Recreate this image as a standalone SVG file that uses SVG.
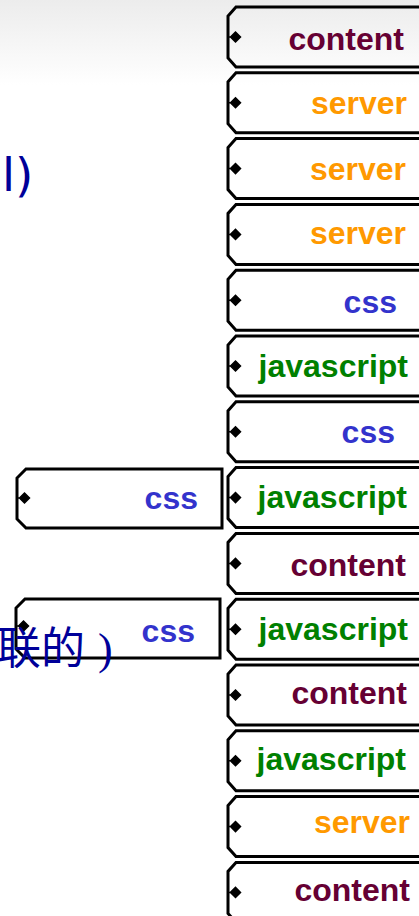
<svg xmlns="http://www.w3.org/2000/svg" width="419" height="916" viewBox="0 0 419 916">
<defs>
<linearGradient id="bg" x1="0" y1="0" x2="0" y2="1">
<stop offset="0" stop-color="#ececec"/>
<stop offset="1" stop-color="#ffffff"/>
</linearGradient>
<path id="rbox" d="M440,0 L236,0 L228,9 L228,51 L236,60 L440,60" />
<path id="dia" d="M228,30 L230.5,30 M230.5,30 L235.5,25 L240.5,30 L235.5,35 Z" />
</defs>
<style>
.box{fill:none;stroke:#000;stroke-width:3;stroke-linejoin:miter}
.dot{fill:#000;stroke:#000;stroke-width:1.5}
.t{font-family:"Liberation Sans",Arial,sans-serif;font-weight:bold;font-size:32px;text-anchor:end}
.content{fill:#660033}
.server{fill:#ff9900}
.css{fill:#3333cc}
.js{fill:#008000}
.cn{font-family:"Liberation Serif","Noto Sans CJK SC",serif;fill:#000099}
</style>
<rect x="0" y="0" width="419" height="85" fill="url(#bg)"/>
<rect x="0" y="85" width="419" height="831" fill="#ffffff"/>
<text x="2" y="191" style="font-family:'DejaVu Sans',sans-serif;font-size:47px;fill:#000099">l)</text>
<g id="connectors"/>
<g id="n1" transform="translate(0,7)"><use href="#rbox" class="box"/><use href="#dia" class="dot"/><text class="t content" x="404" y="43">content</text></g>
<g id="n2" transform="translate(0,72.8)"><use href="#rbox" class="box"/><use href="#dia" class="dot"/><text class="t server" x="407" y="41.5">server</text></g>
<g id="n3" transform="translate(0,138.6)"><use href="#rbox" class="box"/><use href="#dia" class="dot"/><text class="t server" x="406" y="41">server</text></g>
<g id="n4" transform="translate(0,204.4)"><use href="#rbox" class="box"/><use href="#dia" class="dot"/><text class="t server" x="406" y="40">server</text></g>
<g id="n5" transform="translate(0,270.2)"><use href="#rbox" class="box"/><use href="#dia" class="dot"/><text class="t css" x="397" y="43">css</text></g>
<g id="n6" transform="translate(0,336)"><use href="#rbox" class="box"/><use href="#dia" class="dot"/><text class="t js" x="408" y="41">javascript</text></g>
<g id="n7" transform="translate(0,401.8)"><use href="#rbox" class="box"/><use href="#dia" class="dot"/><text class="t css" x="395" y="41.5">css</text></g>
<g id="n8" transform="translate(0,467.6)"><use href="#rbox" class="box"/><use href="#dia" class="dot"/><text class="t js" x="407" y="40.5">javascript</text></g>
<g id="n9" transform="translate(0,533.4)"><use href="#rbox" class="box"/><use href="#dia" class="dot"/><text class="t content" x="406" y="42.5">content</text></g>
<g id="n10" transform="translate(0,599.2)"><use href="#rbox" class="box"/><use href="#dia" class="dot"/><text class="t js" x="408" y="41">javascript</text></g>
<g id="n11" transform="translate(0,665)"><use href="#rbox" class="box"/><use href="#dia" class="dot"/><text class="t content" x="407" y="39">content</text></g>
<g id="n12" transform="translate(0,730.8)"><use href="#rbox" class="box"/><use href="#dia" class="dot"/><text class="t js" x="406" y="39.5">javascript</text></g>
<g id="n13" transform="translate(0,796.6)"><use href="#rbox" class="box"/><use href="#dia" class="dot"/><text class="t server" x="410" y="36">server</text></g>
<g id="n14" transform="translate(0,862.4)"><use href="#rbox" class="box"/><use href="#dia" class="dot"/><text class="t content" x="410" y="38.5">content</text></g>
<g id="nA">
<path class="box" d="M222,469 L26,469 L17,478 L17,519 L26,528 L222,528 Z"/>
<path class="dot" d="M17,498 L19.5,498 M19.5,498 L24.5,493 L29.5,498 L24.5,503 Z"/>
<text class="t css" x="198" y="509">css</text>
</g>
<g id="nB">
<path class="box" d="M220,599 L25,599 L16,608 L16,649 L25,658 L220,658 Z"/>
<path class="dot" d="M16,626 L18.5,626 M18.5,626 L23.5,621 L28.5,626 L23.5,631 Z"/>
<text class="t css" x="195" y="642">css</text>
</g>
<text class="cn" x="-3" y="664" font-size="44">联的<tspan x="98">)</tspan></text>
</svg>
